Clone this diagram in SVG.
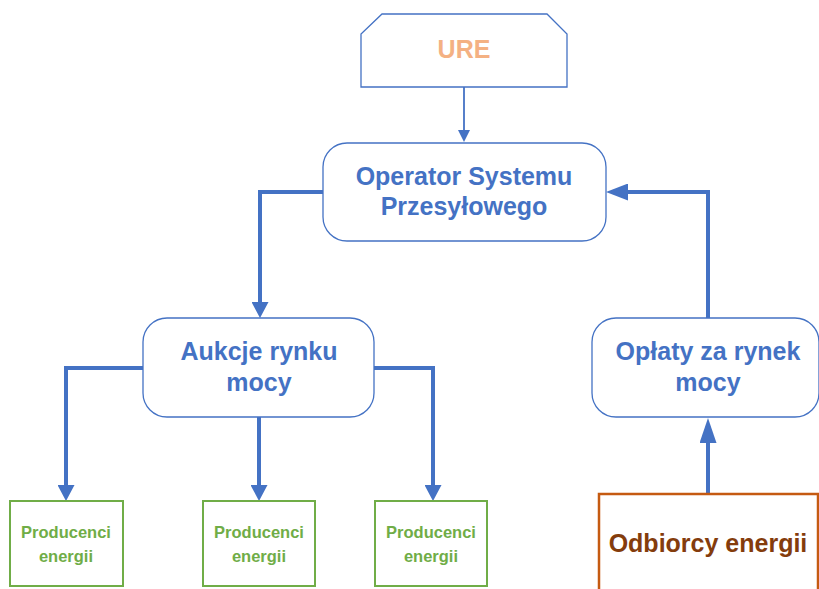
<svg xmlns="http://www.w3.org/2000/svg" width="819" height="589" viewBox="0 0 819 589">
<style>
.bl{fill:#fff;stroke:#4472C4;stroke-width:1.3}
.gr{fill:#fff;stroke:#70AD47;stroke-width:2}
.or{fill:#fff;stroke:#C55A11;stroke-width:2.5}
.t{font-family:"Liberation Sans",Arial,sans-serif;font-weight:bold;text-anchor:middle}
.tb{fill:#4472C4;font-size:25px}
.tg{fill:#70AD47;font-size:16.5px}
.c{fill:none;stroke:#4472C4;stroke-width:4}
</style>
<defs>
<marker id="aThin" markerUnits="userSpaceOnUse" markerWidth="12" markerHeight="12" viewBox="0 0 12 12" refX="1" refY="6" orient="auto"><path d="M0,0L12,6L0,12z" fill="#4472C4"/></marker>
<marker id="aThick" markerUnits="userSpaceOnUse" markerWidth="16" markerHeight="17" viewBox="0 0 16 17" refX="1" refY="8.5" orient="auto"><path d="M0,0L16,8.5L0,17z" fill="#4472C4"/></marker>
<marker id="aLeft" markerUnits="userSpaceOnUse" markerWidth="22" markerHeight="17" viewBox="0 0 22 17" refX="1" refY="8.5" orient="auto"><path d="M0,0L22,8.5L0,17z" fill="#4472C4"/></marker>
<marker id="aUp" markerUnits="userSpaceOnUse" markerWidth="25" markerHeight="17" viewBox="0 0 25 17" refX="1" refY="8.5" orient="auto"><path d="M0,0L25,8.5L0,17z" fill="#4472C4"/></marker>
</defs>
<g id="connectors">
<path d="M464,87V131" fill="none" stroke="#4472C4" stroke-width="1.8" marker-end="url(#aThin)"/>
<path class="c" d="M323,192H260V303" marker-end="url(#aThick)"/>
<path class="c" d="M143,368H66V486" marker-end="url(#aThick)"/>
<path class="c" d="M259,417V486" marker-end="url(#aThick)"/>
<path class="c" d="M374,368H433V486" marker-end="url(#aThick)"/>
<path class="c" d="M708,320V192H627" marker-end="url(#aLeft)"/>
<path class="c" d="M708,494V442" marker-end="url(#aUp)"/>
</g>
<g id="ure">
<path class="bl" d="M382,14H547L567,34V87H361V34Z"/>
<text class="t" x="464" y="58" fill="#F4B183" font-size="25">URE</text>
</g>
<g id="osp">
<rect class="bl" x="323" y="143" width="283" height="98" rx="24"/>
<text class="t tb" x="464" y="185">Operator Systemu</text>
<text class="t tb" x="464" y="215">Przesyłowego</text>
</g>
<g id="aukcje">
<rect class="bl" x="143" y="318" width="231" height="99" rx="24"/>
<text class="t tb" x="259" y="360">Aukcje rynku</text>
<text class="t tb" x="259" y="391">mocy</text>
</g>
<g id="oplaty">
<rect class="bl" x="592" y="318" width="227" height="99" rx="24"/>
<text class="t tb" x="708" y="360">Opłaty za rynek</text>
<text class="t tb" x="708" y="391">mocy</text>
</g>
<g id="prod1">
<rect class="gr" x="10" y="501" width="113" height="85"/>
<text class="t tg" x="66" y="538">Producenci</text>
<text class="t tg" x="66" y="562">energii</text>
</g>
<g id="prod2">
<rect class="gr" x="203" y="501" width="112" height="85"/>
<text class="t tg" x="259" y="538">Producenci</text>
<text class="t tg" x="259" y="562">energii</text>
</g>
<g id="prod3">
<rect class="gr" x="375" y="501" width="112" height="85"/>
<text class="t tg" x="431" y="538">Producenci</text>
<text class="t tg" x="431" y="562">energii</text>
</g>
<g id="odbiorcy">
<rect class="or" x="599" y="494" width="219" height="110"/>
<text class="t" x="708" y="552" fill="#843C0C" font-size="25">Odbiorcy energii</text>
</g>
</svg>
